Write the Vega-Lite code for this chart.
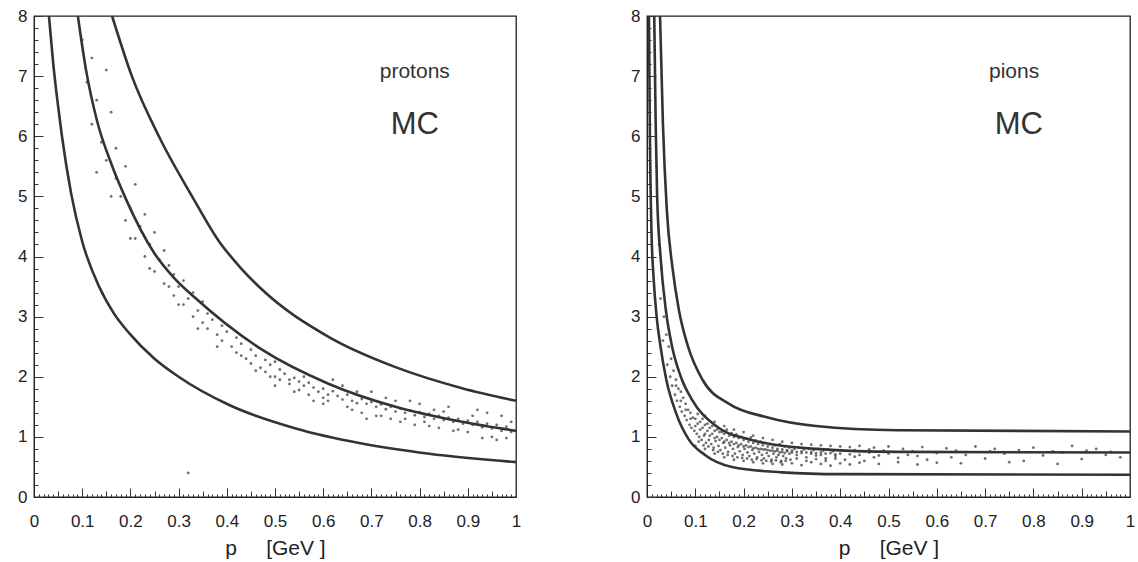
{
"$schema": "https://vega.github.io/schema/vega-lite/v6.json",
"padding": {"left": 16, "top": 6, "right": 5, "bottom": 2},
"spacing": 107,
"config": {
  "view": {"stroke": "#222", "strokeWidth": 1.3},
  "font": "Liberation Sans",
  "axis": {"domainColor": "#222", "tickColor": "#333", "labelColor": "#222", "titleColor": "#222", "labelFont": "Liberation Sans", "titleFont": "Liberation Sans", "labelFontSize": 17, "titleFontSize": 21, "titleFontWeight": "normal", "grid": false, "labelOverlap": false, "labelFlush": false, "labelBound": false, "tickWidth": 1}
},
"datasets": {
  "cp": [
    {"c":"lo","p":0.031,"v":8},{"c":"lo","p":0.04,"v":7.2},{"c":"lo","p":0.05,"v":6.5},{"c":"lo","p":0.058,"v":6.0},{"c":"lo","p":0.077,"v":5.05},{"c":"lo","p":0.10,"v":4.25},{"c":"lo","p":0.135,"v":3.5},{"c":"lo","p":0.166,"v":3.05},{"c":"lo","p":0.197,"v":2.73},{"c":"lo","p":0.25,"v":2.3},{"c":"lo","p":0.30,"v":2.0},{"c":"lo","p":0.405,"v":1.53},{"c":"lo","p":0.543,"v":1.14},{"c":"lo","p":0.68,"v":0.89},{"c":"lo","p":0.82,"v":0.72},{"c":"lo","p":1.0,"v":0.58},
    {"c":"mid","p":0.091,"v":8},{"c":"mid","p":0.108,"v":7.1},{"c":"mid","p":0.131,"v":6.25},{"c":"mid","p":0.16,"v":5.55},{"c":"mid","p":0.191,"v":4.95},{"c":"mid","p":0.25,"v":4.05},{"c":"mid","p":0.29,"v":3.65},{"c":"mid","p":0.336,"v":3.3},{"c":"mid","p":0.473,"v":2.45},{"c":"mid","p":0.612,"v":1.88},{"c":"mid","p":0.75,"v":1.5},{"c":"mid","p":0.888,"v":1.25},{"c":"mid","p":1.0,"v":1.1},
    {"c":"hi","p":0.162,"v":8},{"c":"hi","p":0.203,"v":7},{"c":"hi","p":0.259,"v":6},{"c":"hi","p":0.328,"v":5},{"c":"hi","p":0.384,"v":4.25},{"c":"hi","p":0.43,"v":3.8},{"c":"hi","p":0.473,"v":3.45},{"c":"hi","p":0.612,"v":2.66},{"c":"hi","p":0.75,"v":2.16},{"c":"hi","p":0.888,"v":1.81},{"c":"hi","p":1.0,"v":1.6}
  ],
  "cpi": [
    {"c":"lo","p":0.004,"v":8},{"c":"lo","p":0.006,"v":6},{"c":"lo","p":0.009,"v":4.5},{"c":"lo","p":0.014,"v":3.6},{"c":"lo","p":0.02,"v":3.0},{"c":"lo","p":0.028,"v":2.5},{"c":"lo","p":0.04,"v":1.95},{"c":"lo","p":0.06,"v":1.4},{"c":"lo","p":0.087,"v":0.95},{"c":"lo","p":0.12,"v":0.7},{"c":"lo","p":0.176,"v":0.5},{"c":"lo","p":0.28,"v":0.41},{"c":"lo","p":0.4,"v":0.38},{"c":"lo","p":1.0,"v":0.37},
    {"c":"mid","p":0.015,"v":8},{"c":"mid","p":0.018,"v":6.2},{"c":"mid","p":0.021,"v":5.0},{"c":"mid","p":0.028,"v":4.0},{"c":"mid","p":0.039,"v":3.11},{"c":"mid","p":0.052,"v":2.5},{"c":"mid","p":0.07,"v":2.0},{"c":"mid","p":0.093,"v":1.62},{"c":"mid","p":0.143,"v":1.18},{"c":"mid","p":0.211,"v":0.96},{"c":"mid","p":0.35,"v":0.8},{"c":"mid","p":0.52,"v":0.75},{"c":"mid","p":1.0,"v":0.74},
    {"c":"hi","p":0.027,"v":8},{"c":"hi","p":0.033,"v":6.2},{"c":"hi","p":0.041,"v":4.78},{"c":"hi","p":0.053,"v":3.8},{"c":"hi","p":0.066,"v":3.11},{"c":"hi","p":0.085,"v":2.5},{"c":"hi","p":0.115,"v":1.95},{"c":"hi","p":0.17,"v":1.55},{"c":"hi","p":0.246,"v":1.33},{"c":"hi","p":0.35,"v":1.18},{"c":"hi","p":0.52,"v":1.11},{"c":"hi","p":1.0,"v":1.09}
  ],
  "sp": [
    {"p":0.10,"v":7.6},{"p":0.12,"v":7.3},{"p":0.15,"v":7.1},{"p":0.11,"v":6.9},{"p":0.13,"v":6.6},{"p":0.16,"v":6.4},{"p":0.12,"v":6.2},{"p":0.14,"v":5.9},{"p":0.17,"v":5.8},{"p":0.15,"v":5.6},{"p":0.19,"v":5.5},{"p":0.13,"v":5.4},{"p":0.17,"v":5.3},{"p":0.21,"v":5.2},{"p":0.18,"v":5.0},{"p":0.2,"v":4.8},{"p":0.23,"v":4.7},{"p":0.19,"v":4.6},{"p":0.22,"v":4.5},{"p":0.25,"v":4.4},{"p":0.21,"v":4.3},{"p":0.24,"v":4.2},{"p":0.27,"v":4.1},{"p":0.23,"v":4.0},{"p":0.26,"v":3.95},{"p":0.28,"v":3.85},{"p":0.25,"v":3.75},{"p":0.29,"v":3.7},{"p":0.31,"v":3.6},{"p":0.27,"v":3.55},{"p":0.30,"v":3.5},{"p":0.33,"v":3.4},{"p":0.29,"v":3.35},{"p":0.32,"v":3.3},{"p":0.35,"v":3.25},{"p":0.31,"v":3.2},{"p":0.34,"v":3.1},{"p":0.36,"v":3.05},{"p":0.33,"v":3.0},{"p":0.37,"v":2.95},{"p":0.35,"v":2.9},{"p":0.39,"v":2.85},{"p":0.36,"v":2.8},{"p":0.40,"v":2.75},{"p":0.38,"v":2.7},{"p":0.42,"v":2.65},{"p":0.39,"v":2.6},{"p":0.43,"v":2.55},{"p":0.41,"v":2.5},{"p":0.45,"v":2.45},{"p":0.42,"v":2.4},{"p":0.46,"v":2.35},{"p":0.44,"v":2.3},{"p":0.48,"v":2.28},{"p":0.45,"v":2.22},{"p":0.49,"v":2.2},{"p":0.47,"v":2.15},{"p":0.51,"v":2.12},{"p":0.48,"v":2.08},{"p":0.52,"v":2.05},{"p":0.5,"v":2.0},{"p":0.54,"v":1.98},{"p":0.51,"v":1.95},{"p":0.55,"v":1.92},{"p":0.53,"v":1.88},{"p":0.57,"v":1.9},{"p":0.56,"v":1.85},{"p":0.58,"v":1.82},{"p":0.55,"v":1.78},{"p":0.6,"v":1.8},{"p":0.59,"v":1.75},{"p":0.62,"v":1.76},{"p":0.61,"v":1.7},{"p":0.63,"v":1.68},{"p":0.6,"v":1.65},{"p":0.65,"v":1.7},{"p":0.64,"v":1.62},{"p":0.66,"v":1.6},{"p":0.68,"v":1.63},{"p":0.67,"v":1.56},{"p":0.69,"v":1.55},{"p":0.7,"v":1.58},{"p":0.71,"v":1.5},{"p":0.72,"v":1.54},{"p":0.73,"v":1.46},{"p":0.74,"v":1.5},{"p":0.75,"v":1.42},{"p":0.76,"v":1.47},{"p":0.77,"v":1.4},{"p":0.78,"v":1.44},{"p":0.79,"v":1.36},{"p":0.8,"v":1.41},{"p":0.81,"v":1.33},{"p":0.82,"v":1.38},{"p":0.83,"v":1.3},{"p":0.84,"v":1.35},{"p":0.85,"v":1.28},{"p":0.86,"v":1.32},{"p":0.87,"v":1.25},{"p":0.88,"v":1.3},{"p":0.89,"v":1.22},{"p":0.9,"v":1.27},{"p":0.91,"v":1.2},{"p":0.92,"v":1.25},{"p":0.93,"v":1.16},{"p":0.94,"v":1.22},{"p":0.95,"v":1.14},{"p":0.96,"v":1.2},{"p":0.97,"v":1.1},{"p":0.98,"v":1.17},{"p":0.99,"v":1.08},
    {"p":0.62,"v":1.95},{"p":0.66,"v":1.45},{"p":0.7,"v":1.75},{"p":0.74,"v":1.3},{"p":0.78,"v":1.6},{"p":0.82,"v":1.18},{"p":0.86,"v":1.5},{"p":0.9,"v":1.08},{"p":0.94,"v":1.4},{"p":0.98,"v":0.98},{"p":0.97,"v":1.35},{"p":0.93,"v":0.98},{"p":0.88,"v":1.12},{"p":0.84,"v":1.15},{"p":0.8,"v":1.55},{"p":0.76,"v":1.25},{"p":0.72,"v":1.35},{"p":0.68,"v":1.4},{"p":0.64,"v":1.85},{"p":0.58,"v":1.6},{"p":0.54,"v":1.75},{"p":0.5,"v":2.25},{"p":0.46,"v":2.1},{"p":0.43,"v":2.35},{"p":0.38,"v":2.5},{"p":0.34,"v":2.8},{"p":0.3,"v":3.2},{"p":0.28,"v":3.5},{"p":0.24,"v":3.8},{"p":0.2,"v":4.3},{"p":0.16,"v":5.0},{"p":0.5,"v":1.85},{"p":0.56,"v":2.0},{"p":0.6,"v":1.55},{"p":0.67,"v":1.75},{"p":0.71,"v":1.35},{"p":0.75,"v":1.6},{"p":0.79,"v":1.2},{"p":0.83,"v":1.45},{"p":0.87,"v":1.1},{"p":0.91,"v":1.35},{"p":0.95,"v":1.0},{"p":0.99,"v":1.25},{"p":0.96,"v":0.95},{"p":0.92,"v":1.45},{"p":0.85,"v":1.42},{"p":0.81,"v":1.25},{"p":0.77,"v":1.3},{"p":0.73,"v":1.65},{"p":0.69,"v":1.3},{"p":0.65,"v":1.5},{"p":0.61,"v":1.6},{"p":0.57,"v":1.7},{"p":0.53,"v":1.95},{"p":0.49,"v":2.0},{"p":0.32,"v":0.4}
  ],
  "spi": [
    {"p":0.02,"v":5.5},{"p":0.025,"v":4.2},{"p":0.03,"v":3.8},{"p":0.028,"v":3.3},{"p":0.035,"v":3.0},{"p":0.04,"v":2.7},{"p":0.033,"v":2.6},{"p":0.045,"v":2.5},{"p":0.05,"v":2.3},{"p":0.042,"v":2.2},{"p":0.055,"v":2.1},{"p":0.048,"v":2.0},{"p":0.06,"v":1.95},{"p":0.052,"v":1.85},{"p":0.065,"v":1.8},{"p":0.058,"v":1.7},{"p":0.07,"v":1.75},{"p":0.062,"v":1.6},{"p":0.075,"v":1.65},{"p":0.068,"v":1.5},{"p":0.08,"v":1.55},{"p":0.072,"v":1.42},{"p":0.085,"v":1.45},{"p":0.078,"v":1.35},{"p":0.09,"v":1.4},{"p":0.082,"v":1.28},{"p":0.095,"v":1.32},{"p":0.088,"v":1.2},{"p":0.1,"v":1.3},{"p":0.092,"v":1.15},{"p":0.105,"v":1.22},{"p":0.098,"v":1.1},{"p":0.11,"v":1.25},{"p":0.103,"v":1.05},{"p":0.115,"v":1.15},{"p":0.108,"v":1.0},{"p":0.12,"v":1.2},{"p":0.113,"v":0.95},{"p":0.125,"v":1.1},{"p":0.118,"v":1.02},{"p":0.13,"v":1.15},{"p":0.122,"v":0.9},{"p":0.135,"v":1.05},{"p":0.128,"v":0.95},{"p":0.14,"v":1.1},{"p":0.133,"v":0.88},{"p":0.145,"v":1.0},{"p":0.138,"v":0.82},{"p":0.15,"v":1.08},{"p":0.142,"v":0.93},{"p":0.155,"v":0.98},{"p":0.148,"v":0.85},{"p":0.16,"v":1.05},{"p":0.152,"v":0.78},{"p":0.165,"v":0.95},{"p":0.158,"v":0.9},{"p":0.17,"v":1.02},{"p":0.162,"v":0.82},{"p":0.175,"v":0.92},{"p":0.168,"v":0.75},{"p":0.18,"v":1.0},{"p":0.172,"v":0.86},{"p":0.185,"v":0.9},{"p":0.178,"v":0.8},{"p":0.19,"v":0.98},{"p":0.182,"v":0.72},{"p":0.195,"v":0.88},{"p":0.188,"v":0.83},{"p":0.2,"v":0.95},{"p":0.192,"v":0.76},{"p":0.205,"v":0.86},{"p":0.198,"v":0.7},{"p":0.21,"v":0.92},{"p":0.202,"v":0.8},{"p":0.215,"v":0.84},{"p":0.208,"v":0.74},{"p":0.22,"v":0.9},{"p":0.212,"v":0.68},{"p":0.225,"v":0.82},{"p":0.218,"v":0.78},{"p":0.23,"v":0.88},{"p":0.222,"v":0.72},{"p":0.235,"v":0.8},{"p":0.228,"v":0.66},{"p":0.24,"v":0.86},{"p":0.232,"v":0.75},{"p":0.245,"v":0.79},{"p":0.238,"v":0.7},{"p":0.25,"v":0.84},{"p":0.242,"v":0.64},{"p":0.255,"v":0.77},{"p":0.248,"v":0.73},{"p":0.26,"v":0.82},{"p":0.252,"v":0.68},{"p":0.265,"v":0.76},{"p":0.258,"v":0.62},{"p":0.27,"v":0.8},{"p":0.262,"v":0.72},{"p":0.275,"v":0.74},{"p":0.268,"v":0.66},{"p":0.28,"v":0.79},{"p":0.272,"v":0.7},{"p":0.285,"v":0.73},{"p":0.278,"v":0.6},{"p":0.29,"v":0.78},{"p":0.282,"v":0.68},{"p":0.295,"v":0.72},{"p":0.288,"v":0.64},{"p":0.3,"v":0.77},{"p":0.31,"v":0.7},{"p":0.32,"v":0.76},{"p":0.33,"v":0.66},{"p":0.34,"v":0.75},{"p":0.35,"v":0.69},{"p":0.36,"v":0.74},{"p":0.37,"v":0.64},{"p":0.38,"v":0.73},{"p":0.39,"v":0.68},{"p":0.4,"v":0.72},{"p":0.41,"v":0.62},{"p":0.42,"v":0.71},{"p":0.43,"v":0.67},{"p":0.44,"v":0.7},{"p":0.45,"v":0.6},{"p":0.46,"v":0.74},{"p":0.47,"v":0.66},{"p":0.48,"v":0.69},{"p":0.5,"v":0.72},{"p":0.52,"v":0.65},{"p":0.54,"v":0.7},{"p":0.56,"v":0.68},{"p":0.58,"v":0.62},{"p":0.6,"v":0.73},{"p":0.63,"v":0.66},{"p":0.66,"v":0.7},{"p":0.7,"v":0.64},{"p":0.74,"v":0.72},{"p":0.78,"v":0.6},{"p":0.82,"v":0.69},{"p":0.86,"v":0.74},{"p":0.9,"v":0.63},{"p":0.95,"v":0.7},{"p":0.98,"v":0.66},
    {"p":0.12,"v":1.35},{"p":0.14,"v":1.25},{"p":0.16,"v":1.18},{"p":0.18,"v":1.12},{"p":0.2,"v":1.08},{"p":0.22,"v":1.02},{"p":0.24,"v":0.98},{"p":0.26,"v":0.95},{"p":0.28,"v":0.92},{"p":0.3,"v":0.9},{"p":0.32,"v":0.88},{"p":0.34,"v":0.87},{"p":0.36,"v":0.86},{"p":0.38,"v":0.85},{"p":0.4,"v":0.84},{"p":0.42,"v":0.83},{"p":0.44,"v":0.85},{"p":0.47,"v":0.82},{"p":0.5,"v":0.84},{"p":0.53,"v":0.8},{"p":0.57,"v":0.83},{"p":0.62,"v":0.81},{"p":0.68,"v":0.84},{"p":0.72,"v":0.8},{"p":0.8,"v":0.82},{"p":0.88,"v":0.85},{"p":0.93,"v":0.8},
    {"p":0.1,"v":0.85},{"p":0.12,"v":0.8},{"p":0.14,"v":0.72},{"p":0.16,"v":0.66},{"p":0.18,"v":0.62},{"p":0.2,"v":0.6},{"p":0.22,"v":0.58},{"p":0.24,"v":0.56},{"p":0.26,"v":0.55},{"p":0.28,"v":0.54},{"p":0.3,"v":0.56},{"p":0.32,"v":0.53},{"p":0.34,"v":0.58},{"p":0.36,"v":0.55},{"p":0.38,"v":0.52},{"p":0.4,"v":0.56},{"p":0.42,"v":0.54},{"p":0.44,"v":0.57},{"p":0.48,"v":0.55},{"p":0.52,"v":0.58},{"p":0.56,"v":0.54},{"p":0.6,"v":0.57},{"p":0.65,"v":0.56},{"p":0.75,"v":0.58},{"p":0.85,"v":0.55},
    {"p":0.11,"v":1.12},{"p":0.13,"v":1.02},{"p":0.15,"v":0.95},{"p":0.17,"v":0.9},{"p":0.19,"v":0.86},{"p":0.21,"v":0.83},{"p":0.23,"v":0.8},{"p":0.25,"v":0.78},{"p":0.27,"v":0.77},{"p":0.29,"v":0.76},{"p":0.31,"v":0.75},{"p":0.33,"v":0.74},{"p":0.35,"v":0.73},{"p":0.37,"v":0.72},{"p":0.39,"v":0.71},{"p":0.12,"v":1.05},{"p":0.14,"v":0.98},{"p":0.16,"v":0.92},{"p":0.18,"v":0.88},{"p":0.2,"v":0.84},{"p":0.22,"v":0.81},{"p":0.24,"v":0.79},{"p":0.26,"v":0.77},{"p":0.28,"v":0.75},{"p":0.3,"v":0.74},{"p":0.32,"v":0.73},{"p":0.34,"v":0.72},{"p":0.36,"v":0.7},{"p":0.09,"v":1.3},{"p":0.1,"v":1.18},{"p":0.08,"v":1.45},{"p":0.07,"v":1.6},{"p":0.06,"v":1.85},
    {"p":0.105,"v":1.38},{"p":0.115,"v":1.3},{"p":0.125,"v":1.22},{"p":0.135,"v":1.18},{"p":0.145,"v":1.12},{"p":0.155,"v":1.08},{"p":0.165,"v":1.12},{"p":0.175,"v":1.06},{"p":0.185,"v":1.04},{"p":0.195,"v":1.0},{"p":0.205,"v":0.97},{"p":0.215,"v":0.99},{"p":0.225,"v":0.94},{"p":0.235,"v":0.92},{"p":0.245,"v":0.9},{"p":0.255,"v":0.88},{"p":0.265,"v":0.86},{"p":0.275,"v":0.88},{"p":0.285,"v":0.84},{"p":0.295,"v":0.82},{"p":0.305,"v":0.8},{"p":0.315,"v":0.82},{"p":0.325,"v":0.79},{"p":0.335,"v":0.8},{"p":0.345,"v":0.78},{"p":0.355,"v":0.8},{"p":0.365,"v":0.77},{"p":0.375,"v":0.79},{"p":0.385,"v":0.76},{"p":0.395,"v":0.78},
    {"p":0.107,"v":0.92},{"p":0.117,"v":0.86},{"p":0.127,"v":0.84},{"p":0.137,"v":0.78},{"p":0.147,"v":0.75},{"p":0.157,"v":0.72},{"p":0.167,"v":0.7},{"p":0.177,"v":0.68},{"p":0.187,"v":0.66},{"p":0.197,"v":0.65},{"p":0.207,"v":0.64},{"p":0.217,"v":0.62},{"p":0.227,"v":0.63},{"p":0.237,"v":0.61},{"p":0.247,"v":0.6},{"p":0.257,"v":0.59},{"p":0.267,"v":0.61},{"p":0.277,"v":0.58},{"p":0.287,"v":0.6},{"p":0.297,"v":0.62},{"p":0.31,"v":0.64},{"p":0.33,"v":0.6},{"p":0.35,"v":0.63},{"p":0.37,"v":0.6},{"p":0.39,"v":0.64},{"p":0.43,"v":0.78},{"p":0.46,"v":0.79},{"p":0.49,"v":0.77},{"p":0.55,"v":0.76},{"p":0.64,"v":0.77},{"p":0.71,"v":0.76},{"p":0.77,"v":0.78},{"p":0.84,"v":0.76},{"p":0.91,"v":0.77},{"p":0.96,"v":0.75}
  ],
  "lp": [{"t":"protons","p":0.79,"v":7.07}],
  "lpi": [{"t":"pions","p":0.76,"v":7.07}],
  "mc": [{"t":"MC","p":0.79,"v":6.19}],
  "mcpi": [{"t":"MC","p":0.77,"v":6.19}]
},
"hconcat": [
  {
    "width": 482, "height": 481,
    "resolve": {"axis": {"x": "independent", "y": "independent"}},
    "layer": [
      {
        "data": {"name": "sp"},
        "mark": {"type": "circle", "size": 8, "color": "#333", "opacity": 0.7},
        "encoding": {
          "x": {"field": "p", "type": "quantitative", "scale": {"domain": [0, 1], "nice": false},
            "axis": {"orient": "bottom", "title": "p\u00a0\u00a0\u00a0\u00a0\u00a0[GeV ]", "titlePadding": 8, "labelPadding": 25, "format": ".1~f", "values": [0,0.1,0.2,0.3,0.4,0.5,0.6,0.7,0.8,0.9,1], "tickSize": -9}},
          "y": {"field": "v", "type": "quantitative", "scale": {"domain": [0, 8], "nice": false},
            "axis": {"orient": "left", "title": null, "labelPadding": 16, "values": [0,1,2,3,4,5,6,7,8], "tickSize": -9}}
        }
      },
      {
        "data": {"name": "cp"},
        "mark": {"type": "line", "color": "#333", "strokeWidth": 2.6, "interpolate": "monotone"},
        "encoding": {
          "x": {"field": "p", "type": "quantitative", "axis": {"orient": "bottom", "title": null, "labels": false, "domain": false, "tickSize": -6, "values": [0.05,0.15,0.25,0.35,0.45,0.55,0.65,0.75,0.85,0.95]}},
          "y": {"field": "v", "type": "quantitative", "axis": {"orient": "left", "title": null, "labels": false, "domain": false, "tickSize": -4, "values": [0.2,0.4,0.6,0.8,1.2,1.4,1.6,1.8,2.2,2.4,2.6,2.8,3.2,3.4,3.6,3.8,4.2,4.4,4.6,4.8,5.2,5.4,5.6,5.8,6.2,6.4,6.6,6.8,7.2,7.4,7.6,7.8]}},
          "detail": {"field": "c"}, "order": {"field": "p"}}
      },
      {
        "data": {"name": "lp"},
        "mark": {"type": "text", "fontSize": 21, "color": "#333", "font": "Liberation Sans"},
        "encoding": {
          "x": {"field": "p", "type": "quantitative", "axis": {"orient": "bottom", "title": null, "labels": false, "domain": false, "tickSize": -3, "values": [0.01,0.02,0.03,0.04,0.06,0.07,0.08,0.09,0.11,0.12,0.13,0.14,0.16,0.17,0.18,0.19,0.21,0.22,0.23,0.24,0.26,0.27,0.28,0.29,0.31,0.32,0.33,0.34,0.36,0.37,0.38,0.39,0.41,0.42,0.43,0.44,0.46,0.47,0.48,0.49,0.51,0.52,0.53,0.54,0.56,0.57,0.58,0.59,0.61,0.62,0.63,0.64,0.66,0.67,0.68,0.69,0.71,0.72,0.73,0.74,0.76,0.77,0.78,0.79,0.81,0.82,0.83,0.84,0.86,0.87,0.88,0.89,0.91,0.92,0.93,0.94,0.96,0.97,0.98,0.99]}},
          "y": {"field": "v", "type": "quantitative", "axis": null},
          "text": {"field": "t"}}
      },
      {
        "data": {"name": "mc"},
        "mark": {"type": "text", "fontSize": 31, "color": "#333", "font": "Liberation Sans"},
        "encoding": {"x": {"field": "p", "type": "quantitative", "axis": null}, "y": {"field": "v", "type": "quantitative", "axis": null}, "text": {"field": "t"}}
      }
    ]
  },
  {
    "width": 483, "height": 481,
    "resolve": {"axis": {"x": "independent", "y": "independent"}},
    "layer": [
      {
        "data": {"name": "spi"},
        "mark": {"type": "circle", "size": 8, "color": "#333", "opacity": 0.7},
        "encoding": {
          "x": {"field": "p", "type": "quantitative", "scale": {"domain": [0, 1], "nice": false},
            "axis": {"orient": "bottom", "title": "p\u00a0\u00a0\u00a0\u00a0\u00a0[GeV ]", "titlePadding": 8, "labelPadding": 25, "format": ".1~f", "values": [0,0.1,0.2,0.3,0.4,0.5,0.6,0.7,0.8,0.9,1], "tickSize": -9}},
          "y": {"field": "v", "type": "quantitative", "scale": {"domain": [0, 8], "nice": false},
            "axis": {"orient": "left", "title": null, "labelPadding": 16, "values": [0,1,2,3,4,5,6,7,8], "tickSize": -9}}
        }
      },
      {
        "data": {"name": "cpi"},
        "mark": {"type": "line", "color": "#333", "strokeWidth": 2.6, "interpolate": "monotone"},
        "encoding": {
          "x": {"field": "p", "type": "quantitative", "axis": {"orient": "bottom", "title": null, "labels": false, "domain": false, "tickSize": -6, "values": [0.05,0.15,0.25,0.35,0.45,0.55,0.65,0.75,0.85,0.95]}},
          "y": {"field": "v", "type": "quantitative", "axis": {"orient": "left", "title": null, "labels": false, "domain": false, "tickSize": -4, "values": [0.2,0.4,0.6,0.8,1.2,1.4,1.6,1.8,2.2,2.4,2.6,2.8,3.2,3.4,3.6,3.8,4.2,4.4,4.6,4.8,5.2,5.4,5.6,5.8,6.2,6.4,6.6,6.8,7.2,7.4,7.6,7.8]}},
          "detail": {"field": "c"}, "order": {"field": "p"}}
      },
      {
        "data": {"name": "lpi"},
        "mark": {"type": "text", "fontSize": 21, "color": "#333", "font": "Liberation Sans"},
        "encoding": {
          "x": {"field": "p", "type": "quantitative", "axis": {"orient": "bottom", "title": null, "labels": false, "domain": false, "tickSize": -3, "values": [0.01,0.02,0.03,0.04,0.06,0.07,0.08,0.09,0.11,0.12,0.13,0.14,0.16,0.17,0.18,0.19,0.21,0.22,0.23,0.24,0.26,0.27,0.28,0.29,0.31,0.32,0.33,0.34,0.36,0.37,0.38,0.39,0.41,0.42,0.43,0.44,0.46,0.47,0.48,0.49,0.51,0.52,0.53,0.54,0.56,0.57,0.58,0.59,0.61,0.62,0.63,0.64,0.66,0.67,0.68,0.69,0.71,0.72,0.73,0.74,0.76,0.77,0.78,0.79,0.81,0.82,0.83,0.84,0.86,0.87,0.88,0.89,0.91,0.92,0.93,0.94,0.96,0.97,0.98,0.99]}},
          "y": {"field": "v", "type": "quantitative", "axis": null},
          "text": {"field": "t"}}
      },
      {
        "data": {"name": "mcpi"},
        "mark": {"type": "text", "fontSize": 31, "color": "#333", "font": "Liberation Sans"},
        "encoding": {"x": {"field": "p", "type": "quantitative", "axis": null}, "y": {"field": "v", "type": "quantitative", "axis": null}, "text": {"field": "t"}}
      }
    ]
  }
]
}
